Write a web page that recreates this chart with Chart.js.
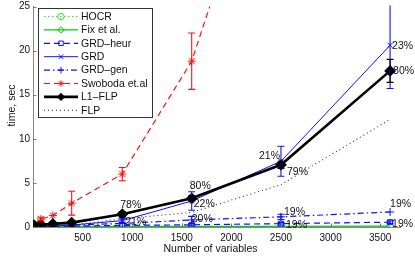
<!DOCTYPE html>
<html><head><meta charset="utf-8">
<script src="https://cdn.jsdelivr.net/npm/chart.js@4.4.0/dist/chart.umd.min.js"></script>
<style>html,body{margin:0;padding:0;background:#fff;overflow:hidden}#wrap{width:415px;height:256px}</style>
</head><body><div id="wrap"><canvas id="c" width="415" height="256"></canvas></div>
<script>
// ---- data ----
const sizes = [10, 80, 200, 390, 900, 1600, 2500, 3600];
const seriesNames = ['HOCR', 'Fix et al.', 'GRD\u2013heur', 'GRD', 'GRD\u2013gen', 'Swoboda et.al', 'L1\u2013FLP', 'FLP'];
const hocr    = [0.02, 0.02, 0.03, 0.03, 0.04, 0.04, 0.05, 0.05];
const fix     = [0.03, 0.03, 0.04, 0.05, 0.06, 0.07, 0.08, 0.09];
const grdHeur = [0.05, 0.06, 0.08, 0.10, 0.18, 0.25, 0.38, 0.55];
const grd     = [0.06, 0.08, 0.12, 0.22, 0.72, 2.95, 7.45, 20.6];
const grdGen  = [0.07, 0.10, 0.15, 0.22, 0.40, 0.80, 1.15, 1.70];
const swoboda = [0.30, 0.90, 1.30, 2.70, 6.00, 18.8, 49.5, null];
const l1flp   = [0.20, 0.25, 0.35, 0.50, 1.45, 3.25, 7.05, 17.7];
const flp     = [0.05, 0.08, 0.12, 0.20, 0.95, 1.65, 4.80, 12.2];
// error half-widths
const swobodaErr = [null, 0.2, null, 1.35, 0.75, 3.2, null, null];
const l1Err      = [null, null, null, null, 0.3, 0.3, 0.4, 1.3];
const grdErr     = [null, null, null, null, 0.2, 1.05, 1.7, 4.9];
const grdGenErr  = [null, null, null, null, null, 0.4, 0.3, null];
const grdHeurErr = [null, null, null, null, null, 0.1, 0.15, 0.15];
// percentage annotations
const l1Pct      = [null, null, null, null, '78%', '80%', '79%', '80%'];
const grdPct     = [null, null, null, null, '21%', '22%', '21%', '23%'];
const grdGenPct  = [null, null, null, null, null, '20%', '19%', '19%'];
const grdHeurPct = [null, null, null, null, null, null, '19%', '19%'];
// ticks and titles
const xTicks = [500, 1000, 1500, 2000, 2500, 3000, 3500];
const yTicks = [0, 5, 10, 15, 20, 25];
const xTitle = 'Number of variables';
const yTitle = 'time, sec';

// ---- styles ----
const FONT = 'Liberation Sans, Arial, Helvetica, sans-serif';
const styles = [
  {color:'#22ee22', width:1, dash:[1.5,2.5], pt:'circle', r:3.5, fill:'rgba(0,0,0,0)'},
  {color:'#00d000', width:1.2, dash:[], pt:'rectRot', r:4, fill:'rgba(0,0,0,0)'},
  {color:'#1010ff', width:1.2, dash:[6,4], pt:'rect', r:3.5, fill:'rgba(0,0,0,0)'},
  {color:'#1010ff', width:1, dash:[], pt:'crossRot', r:3.5, fill:'rgba(0,0,0,0)'},
  {color:'#1010ff', width:1.2, dash:[6,3,1.5,3], pt:'cross', r:4, fill:'rgba(0,0,0,0)'},
  {color:'#ff1010', width:1.2, dash:[6,4], pt:'star', r:4, fill:'rgba(0,0,0,0)'},
  {color:'#000000', width:2.6, dash:[], pt:'rectRot', r:4.5, fill:'#000000'},
  {color:'#333333', width:1.1, dash:[1,3], pt:false, r:0, fill:'rgba(0,0,0,0)'}
];
const seriesVals = [hocr, fix, grdHeur, grd, grdGen, swoboda, l1flp, flp];
const seriesErr  = [null, null, grdHeurErr, grdErr, grdGenErr, swobodaErr, l1Err, null];
const seriesPct  = [null, null, grdHeurPct, grdPct, grdGenPct, null, l1Pct, null];
// label offsets (px) per series index -> per point index
const pctOffsets = {
  6: {4:{dx:-2,dy:-9,a:'left'}, 5:{dx:-2,dy:-12,a:'left'}, 6:{dx:6,dy:7,a:'left'}, 7:{dx:3,dy:0,a:'left'}},
  3: {4:{dx:3,dy:1,a:'left'}, 5:{dx:2,dy:3,a:'left'}, 6:{dx:-1,dy:-5,a:'right'}, 7:{dx:2,dy:1,a:'left'}},
  4: {5:{dx:0,dy:-1,a:'left'}, 6:{dx:3,dy:-5,a:'left'}, 7:{dx:0,dy:-8,a:'left'}},
  2: {6:{dx:5,dy:1,a:'left'}, 7:{dx:2,dy:2,a:'left'}}
};

const datasets = seriesNames.map((name, k) => {
  const s = styles[k];
  return {
    label: name,
    data: sizes.map((x, i) => ({x: x, y: seriesVals[k][i]})),
    borderColor: s.color, backgroundColor: s.fill,
    borderWidth: s.width, borderDash: s.dash,
    pointStyle: s.pt, pointRadius: s.r, pointBorderWidth: k === 6 ? 2 : 1,
    pointBorderColor: s.color, pointBackgroundColor: s.fill,
    tension: 0, fill: false, spanGaps: false, order: -k
  };
});

const errorBars = {
  id: 'errorBars',
  afterDatasetsDraw(chart) {
    const {ctx, chartArea: ca, scales: {x, y}} = chart;
    ctx.save();
    ctx.beginPath(); ctx.rect(ca.left, ca.top - 1, ca.right - ca.left + 20, ca.bottom - ca.top + 2); ctx.clip();
    seriesErr.forEach((err, k) => {
      if (!err) return;
      ctx.strokeStyle = styles[k].color; ctx.lineWidth = 1.1; ctx.setLineDash([]);
      err.forEach((e, i) => {
        const v = seriesVals[k][i];
        if (e == null || v == null) return;
        const px = x.getPixelForValue(sizes[i]);
        const t = y.getPixelForValue(v + e), b = y.getPixelForValue(v - e);
        ctx.beginPath();
        ctx.moveTo(px, t); ctx.lineTo(px, b);
        ctx.moveTo(px - 3.5, t); ctx.lineTo(px + 3.5, t);
        ctx.moveTo(px - 3.5, b); ctx.lineTo(px + 3.5, b);
        ctx.stroke();
      });
    });
    ctx.restore();
    ctx.save();
    ctx.font = '10.5px ' + FONT; ctx.fillStyle = '#111'; ctx.textBaseline = 'middle';
    seriesPct.forEach((arr, k) => {
      if (!arr) return;
      arr.forEach((txt, i) => {
        if (!txt) return;
        const o = (pctOffsets[k] && pctOffsets[k][i]) || {dx:2, dy:0, a:'left'};
        ctx.textAlign = o.a;
        ctx.fillText(txt, x.getPixelForValue(sizes[i]) + o.dx, y.getPixelForValue(seriesVals[k][i]) + o.dy);
      });
    });
    ctx.restore();
  }
};

const innerTicks = {
  id: 'innerTicks',
  afterDraw(chart) {
    const {ctx, chartArea: ca, scales: {x, y}} = chart;
    ctx.save(); ctx.strokeStyle = '#777'; ctx.lineWidth = 1;
    ctx.beginPath();
    yTicks.forEach(v => { const p = Math.round(y.getPixelForValue(v)) + 0.5; ctx.moveTo(ca.left, p); ctx.lineTo(ca.left + 3.5, p); });
    xTicks.forEach(v => { const p = Math.round(x.getPixelForValue(v)) + 0.5; ctx.moveTo(p, ca.bottom); ctx.lineTo(p, ca.bottom - 3.5); });
    ctx.stroke();
    // axis titles
    ctx.fillStyle = '#111'; ctx.font = '10.5px ' + FONT; ctx.textAlign = 'center'; ctx.textBaseline = 'middle';
    ctx.fillText(xTitle, 210.5, 249);
    ctx.translate(12, 105.5); ctx.rotate(-Math.PI / 2);
    ctx.fillText(yTitle, 0, 0);
    ctx.restore();
  }
};

const boxLegend = {
  id: 'boxLegend',
  afterDraw(chart) {
    const ctx = chart.ctx;
    const bx = 38.5, by = 8.5, bw = 114, bh = 109;
    ctx.save();
    ctx.fillStyle = '#fff'; ctx.fillRect(bx, by, bw, bh);
    ctx.strokeStyle = '#333'; ctx.lineWidth = 1; ctx.setLineDash([]);
    ctx.strokeRect(bx, by, bw, bh);
    ctx.font = '10.5px ' + FONT; ctx.textBaseline = 'middle'; ctx.textAlign = 'left';
    seriesNames.forEach((name, k) => {
      const s = styles[k];
      const yy = 16.5 + k * 13.4;
      ctx.strokeStyle = s.color; ctx.lineWidth = s.width; ctx.setLineDash(s.dash);
      ctx.beginPath(); ctx.moveTo(44, yy); ctx.lineTo(78, yy); ctx.stroke();
      ctx.setLineDash([]);
      if (s.pt && Chart.helpers && Chart.helpers.drawPoint) {
        ctx.strokeStyle = s.color; ctx.fillStyle = s.fill; ctx.lineWidth = k === 6 ? 1.5 : 1;
        Chart.helpers.drawPoint(ctx, {pointStyle: s.pt, radius: k === 6 ? 3 : 3.2, rotation: 0, borderWidth: ctx.lineWidth}, 61, yy);
      }
      ctx.fillStyle = '#111';
      ctx.fillText(name, 81, yy + 0.5);
    });
    ctx.restore();
  }
};

new Chart(document.getElementById('c'), {
  type: 'line',
  data: {datasets: datasets},
  options: {
    responsive: false, animation: false, devicePixelRatio: 1,
    layout: {padding: {top: 4, right: 15, left: 0, bottom: 0}},
    plugins: {legend: {display: false}, tooltip: {enabled: false}},
    scales: {
      x: {
        type: 'linear', min: 0, max: 3700,
        afterBuildTicks: s => { s.ticks = xTicks.map(v => ({value: v})); },
        afterFit: s => { s.height = 29; s.paddingLeft = 0; s.paddingRight = 0; },
        grid: {display: false, drawTicks: false},
        border: {display: true, color: '#888', width: 1},
        ticks: {padding: 5, color: '#111', font: {family: FONT, size: 10}, maxRotation: 0, autoSkip: false, callback: v => String(v)},
        title: {display: false}
      },
      y: {
        type: 'linear', min: 0, max: 25,
        afterBuildTicks: s => { s.ticks = yTicks.map(v => ({value: v})); },
        afterFit: s => { s.width = 33; s.paddingTop = 0; s.paddingBottom = 0; },
        grid: {display: false, drawTicks: false},
        border: {display: true, color: '#888', width: 1},
        ticks: {padding: 3, color: '#111', font: {family: FONT, size: 10}, autoSkip: false, callback: v => String(v)},
        title: {display: false}
      }
    }
  },
  plugins: [errorBars, innerTicks, boxLegend]
});
</script>
</body></html>
